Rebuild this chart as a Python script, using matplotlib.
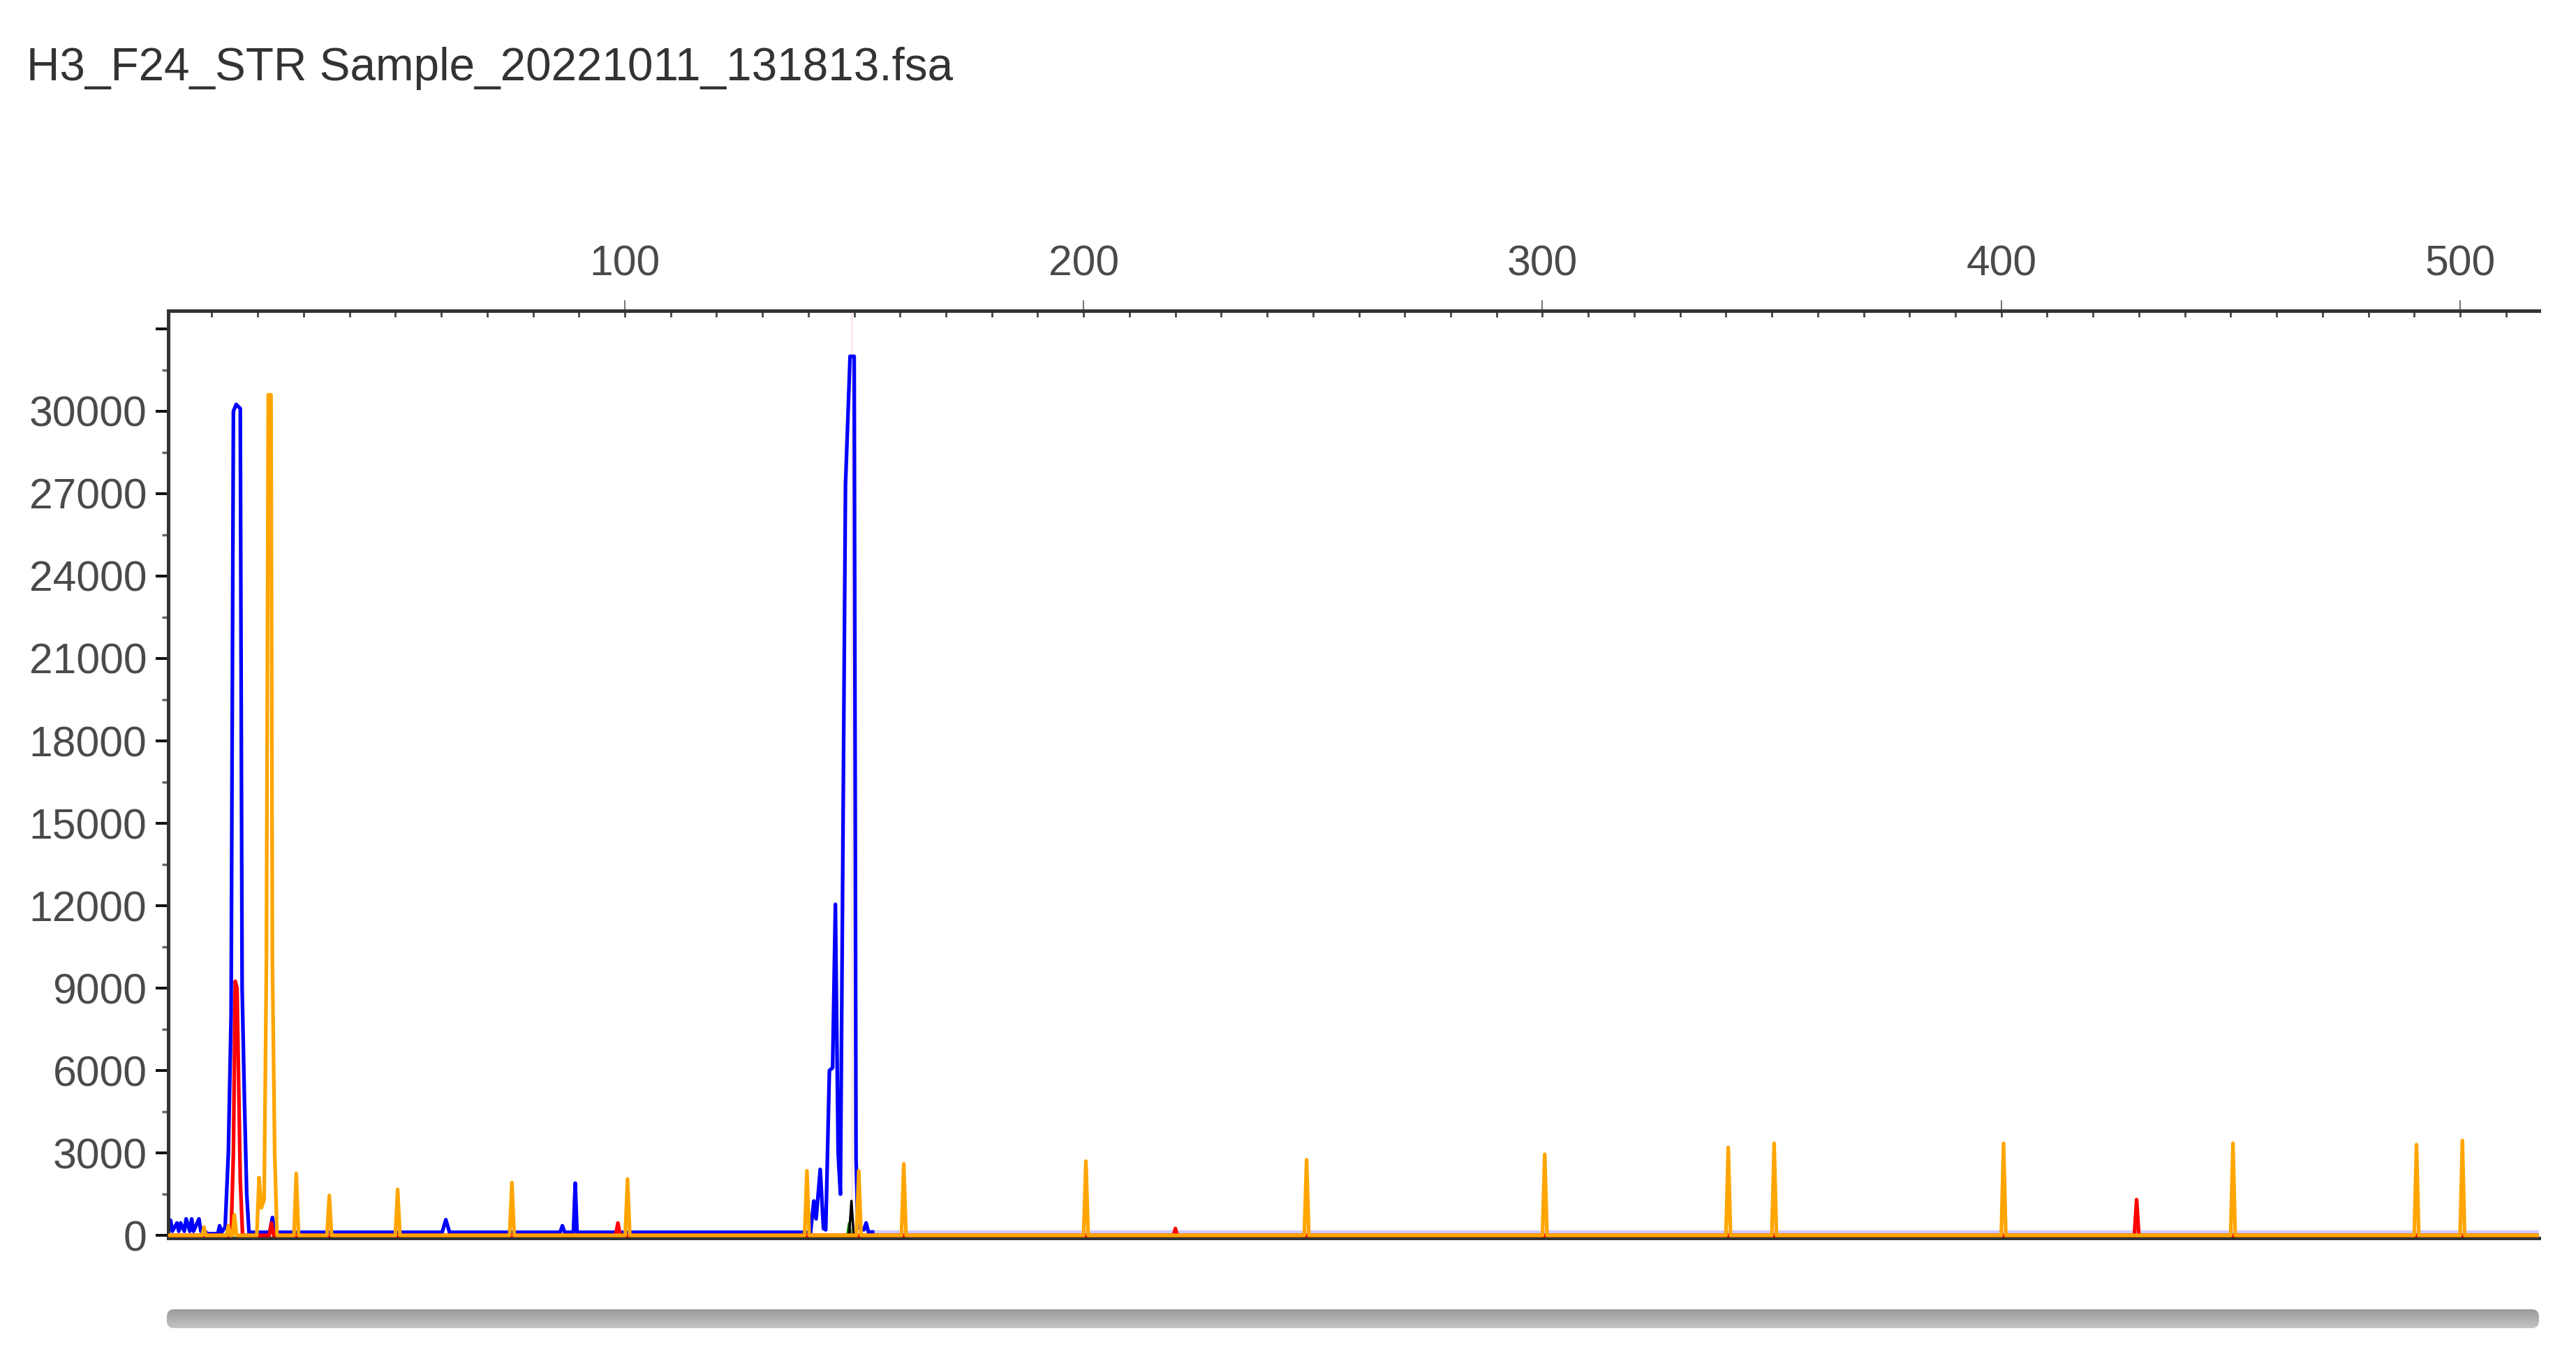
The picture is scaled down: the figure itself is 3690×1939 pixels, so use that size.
import matplotlib
matplotlib.use("Agg")
import matplotlib.pyplot as plt
from matplotlib import font_manager
from matplotlib.ticker import MultipleLocator
from matplotlib.patches import FancyBboxPatch
from matplotlib.colors import LinearSegmentedColormap
import numpy as np

title = "H3_F24_STR Sample_20221011_131813.fsa"

# blue dye trace (size in bp, height in RFU)
blue_x = [0.6, 1.0, 1.4, 2.4, 2.8, 3.2, 4.0, 4.4, 5.2, 5.6, 6.0, 7.2, 7.6, 8.0, 9.0,
          10.0, 11.3, 11.7, 12.1, 12.9, 13.6, 14.2, 14.7, 15.3, 16.2, 16.6, 17.1,
          17.6, 18.1, 22.6, 23.2, 23.8, 60.2, 61.0, 61.8, 85.9, 86.4, 86.9, 88.8,
          89.2, 89.6, 140.5, 141.2, 141.7, 142.6, 143.3, 143.8, 144.6, 145.3, 145.9,
          146.5, 147.0, 148.1, 149.1, 150.0, 150.4, 150.8, 152.1, 152.6, 153.1, 154.0]
blue_y = [150, 550, 150, 450, 150, 450, 150, 600, 150, 600, 150, 600, 150, 250, 60,
          60, 60, 350, 100, 300, 3000, 8000, 30000, 30250, 30100, 9000, 5000,
          1500, 110, 110, 650, 110, 110, 570, 110, 110, 350, 110, 110,
          1900, 110, 110, 1250, 600, 2400, 250, 200, 6000, 6100, 12050,
          3000, 1500, 27300, 32000, 32000, 2800, 300, 200, 450, 120, 120]
blue_tail_x = [154.0, 517.2]
blue_tail_y = [130, 130]

red_x = [0.6, 14.2, 14.7, 15.1, 15.5, 16.2, 16.7, 22.5, 23.0, 23.5, 98.0, 98.5, 99.0,
         219.6, 220.0, 220.4, 429.0, 429.5, 430.0, 517.2]
red_y = [0, 0, 3000, 9250, 9000, 2000, 0, 0, 450, 0, 0, 450, 0,
         0, 250, 0, 0, 1300, 0, 0]

orange_x = [0.6, 7.9, 8.3, 8.7, 13.2, 13.6, 14.0, 14.5, 14.9, 15.4, 19.8, 20.3, 20.8,
            21.4, 21.9, 22.3, 22.9, 23.2, 23.7, 24.2, 27.9, 28.4, 28.9, 35.1, 35.6,
            36.1, 50.0, 50.5, 51.0, 74.9, 75.4, 75.9, 100.1, 100.6, 101.1, 139.2,
            139.7, 140.2, 150.5, 151.0, 151.5, 160.3, 160.8, 161.3, 200.0, 200.5,
            201.0, 248.1, 248.6, 249.1, 300.0, 300.5, 301.0, 340.0, 340.5, 341.0,
            350.0, 350.5, 351.0, 400.0, 400.5, 401.0, 450.0, 450.5, 451.0, 490.0,
            490.5, 491.0, 500.0, 500.5, 501.0, 517.2]
orange_y = [0, 0, 300, 0, 0, 350, 0, 0, 750, 0, 0, 2100, 1000,
            1300, 10000, 30600, 30600, 10000, 3000, 0, 0, 2250, 0, 0, 1450,
            0, 0, 1670, 0, 0, 1920, 0, 0, 2050, 0, 0,
            2350, 0, 0, 2350, 0, 0, 2600, 0, 0, 2700,
            0, 0, 2750, 0, 0, 2950, 0, 0, 3200, 0,
            0, 3350, 0, 0, 3350, 0, 0, 3350, 0, 0,
            3300, 0, 0, 3450, 0, 0]

black_x = [148.9, 149.4, 149.9]
black_y = [0, 1250, 0]
green_x = [148.5, 148.9, 149.3]
green_y = [0, 450, 0]

cursor_x = 149.4

y_ticks = list(range(0, 33001, 3000))
y_labels = [str(v) if v <= 30000 else "" for v in y_ticks]
x_ticks = [100, 200, 300, 400, 500]

W, H = 3691, 1939
names = {f.name for f in font_manager.fontManager.ttflist}
if "Liberation Sans Narrow" in names:
    fam = "Liberation Sans Narrow"
    k = 1.0
else:
    fam = "Liberation Sans"
    k = 0.84

fig = plt.figure(figsize=(W / 100, H / 100), dpi=100)
ax = fig.add_axes([241 / W, 1 - 1773 / H, (3637 - 241) / W, (1773 - 445) / H])

ax.axvline(cursor_x, color="#ffe6e6", lw=2, zorder=0.5)
ax.plot(blue_x, blue_y, color="#0000ff", lw=3.8, zorder=2)
ax.plot(blue_tail_x, blue_tail_y, color="#0000ff", lw=3.8, alpha=0.2, zorder=2)
ax.plot(red_x, red_y, color="#ff0000", lw=3.8, zorder=3)
ax.plot(orange_x, orange_y, color="#ffa500", lw=3.8, zorder=4)
ax.plot(green_x, green_y, color="#008000", lw=2.5, zorder=1.8)
ax.plot(black_x, black_y, color="#000000", lw=2.5, zorder=1.9)

ax.set_xlim(0.5, 517.2)
ax.set_ylim(-100, 33660)

# top axis only
ax.xaxis.tick_top()
ax.set_xticks(x_ticks)
ax.xaxis.set_minor_locator(MultipleLocator(10))
ax.xaxis.remove_overlapping_locs = False
ax.tick_params(axis="x", which="major", direction="out", length=10.8, width=1.5,
               color="#777777", pad=16, labelsize=52 * k, labelcolor="#4a4a4a",
               top=True, bottom=False, labeltop=True, labelbottom=False)
ax.tick_params(axis="x", which="minor", direction="in", length=6.5, width=2,
               color="#444444", top=True, bottom=False)

ax.set_yticks(y_ticks)
ax.set_yticklabels(y_labels)
ax.yaxis.set_minor_locator(MultipleLocator(1500))
ax.tick_params(axis="y", which="major", direction="out", length=13, width=2.9,
               color="#111111", pad=9, labelsize=52 * k, labelcolor="#4a4a4a")
ax.tick_params(axis="y", which="minor", direction="out", length=6.5, width=2.5,
               color="#666666")
for lab in ax.get_xticklabels() + ax.get_yticklabels():
    lab.set_family(fam)

ax.spines["right"].set_visible(False)
for s in ["left", "top", "bottom"]:
    ax.spines[s].set_linewidth(3.6)
    ax.spines[s].set_color("#333333")

fig.text(38 / W, 1 - 115 / H, title, fontsize=56.3 * k, color="#333333",
         family=fam, ha="left", va="baseline")

# scroll bar under the plot
sb = fig.add_axes([239 / W, 1 - 1902 / H, (3637 - 239) / W, 27 / H])
sb.set_axis_off()
grad = np.linspace(0, 1, 50).reshape(-1, 1)
cmap = LinearSegmentedColormap.from_list("sb", ["#9a9a9a", "#c4c4c4"])
im = sb.imshow(grad, aspect="auto", cmap=cmap, extent=[0, 1, 0, 1])
box = FancyBboxPatch((0, 0), 1, 1, boxstyle="round,pad=0,rounding_size=0.003",
                     mutation_aspect=130, transform=sb.transAxes,
                     facecolor="none", edgecolor="none")
sb.add_patch(box)
im.set_clip_path(box)

fig.savefig("out.png", dpi=100)
